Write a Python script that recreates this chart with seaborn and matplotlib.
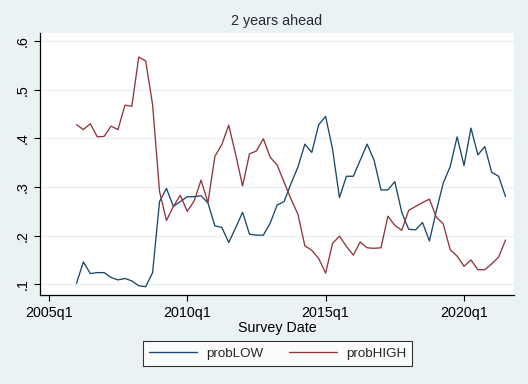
import matplotlib
matplotlib.use("Agg")
import matplotlib.pyplot as plt
import seaborn as sns
import pandas as pd
from matplotlib.lines import Line2D

# ---- data (Stata quarterly dates: 2006q1 = 184) ----
quarters = list(range(184, 247))
prob_low = [0.102, 0.146, 0.122, 0.124, 0.124, 0.114, 0.109, 0.112, 0.107, 0.097, 0.095, 0.124, 0.270, 0.297,
            0.260, 0.270, 0.280, 0.280, 0.282, 0.267, 0.220, 0.217, 0.186, 0.216, 0.248, 0.203, 0.201, 0.201,
            0.226, 0.263, 0.270, 0.307, 0.341, 0.388, 0.371, 0.428, 0.445, 0.378, 0.278, 0.322, 0.322, 0.355,
            0.388, 0.355, 0.294, 0.294, 0.311, 0.248, 0.213, 0.212, 0.227, 0.189, 0.251, 0.308, 0.342, 0.403,
            0.344, 0.421, 0.366, 0.383, 0.330, 0.322, 0.280]
prob_high = [0.428, 0.418, 0.430, 0.403, 0.404, 0.425, 0.418, 0.468, 0.466, 0.567, 0.559, 0.469, 0.291, 0.231,
             0.260, 0.283, 0.250, 0.271, 0.314, 0.268, 0.363, 0.387, 0.427, 0.367, 0.302, 0.368, 0.374, 0.399,
             0.361, 0.345, 0.310, 0.275, 0.244, 0.179, 0.170, 0.153, 0.123, 0.184, 0.199, 0.178, 0.160, 0.187,
             0.175, 0.174, 0.175, 0.240, 0.221, 0.211, 0.252, 0.260, 0.268, 0.275, 0.238, 0.224, 0.171, 0.158,
             0.137, 0.150, 0.130, 0.130, 0.142, 0.156, 0.191]
series_names = ["probLOW", "probHIGH"]
x_ticks = [180, 200, 220, 240]
x_tick_labels = ["2005q1", "2010q1", "2015q1", "2020q1"]
y_ticks = [0.1, 0.2, 0.3, 0.4, 0.5, 0.6]
y_tick_labels = [".1", ".2", ".3", ".4", ".5", ".6"]

df = pd.DataFrame({
    "date": quarters * 2,
    "value": prob_low + prob_high,
    "series": [series_names[0]] * len(quarters) + [series_names[1]] * len(quarters),
})

sns.set_theme(style="white")
plt.rcParams["font.family"] = ["Liberation Sans", "DejaVu Sans"]

bg = "#EAF2F3"
colors = {"probLOW": "#1a476f", "probHIGH": "#90353b"}

fig = plt.figure(figsize=(5.28, 3.84), dpi=100, facecolor=bg)
ax = fig.add_axes([40 / 528, 1 - 295.3 / 384, (514 - 40) / 528, (295.3 - 33) / 384])
ax.set_facecolor("white")

sns.lineplot(data=df, x="date", y="value", hue="series", palette=colors,
             linewidth=0.95, ax=ax, legend=False)

ax.set_xlim(178.73, 247.22)
ax.set_ylim(0.0774, 0.6164)
ax.set_xticks(x_ticks)
ax.set_xticklabels(x_tick_labels)
ax.set_yticks(y_ticks)
ax.set_yticklabels(y_tick_labels, rotation=90, va="center")
ax.grid(axis="y", color=bg, linewidth=1.0)
ax.grid(axis="x", visible=False)
ax.set_axisbelow(True)

for s in ["top", "right"]:
    ax.spines[s].set_visible(False)
for s in ["left", "bottom"]:
    ax.spines[s].set_color("black")
    ax.spines[s].set_linewidth(0.9)

ax.tick_params(axis="both", which="major", direction="out", length=4.5, width=0.8,
               color="black", labelsize=10.3, labelcolor="black", pad=3,
               left=True, bottom=True)

ax.set_xlabel("Survey Date", fontsize=10.3, color="black", labelpad=1)
ax.set_ylabel("")
ax.set_title("2 years ahead", fontsize=10.3, color="#1e2a36", pad=6)

handles = [Line2D([0], [0], color=colors[n], lw=0.95) for n in series_names]
leg = fig.legend(handles, series_names, loc="center", ncol=2,
                 bbox_to_anchor=(277.5 / 528, 1 - 353.5 / 384),
                 frameon=True, fancybox=False, fontsize=9.6,
                 handlelength=3.6, columnspacing=1.9, handletextpad=0.7,
                 borderpad=0.45)
leg.get_frame().set_edgecolor("black")
leg.get_frame().set_linewidth(0.8)
leg.get_frame().set_facecolor("white")

fig.savefig("out.png", dpi=100, facecolor=bg)
